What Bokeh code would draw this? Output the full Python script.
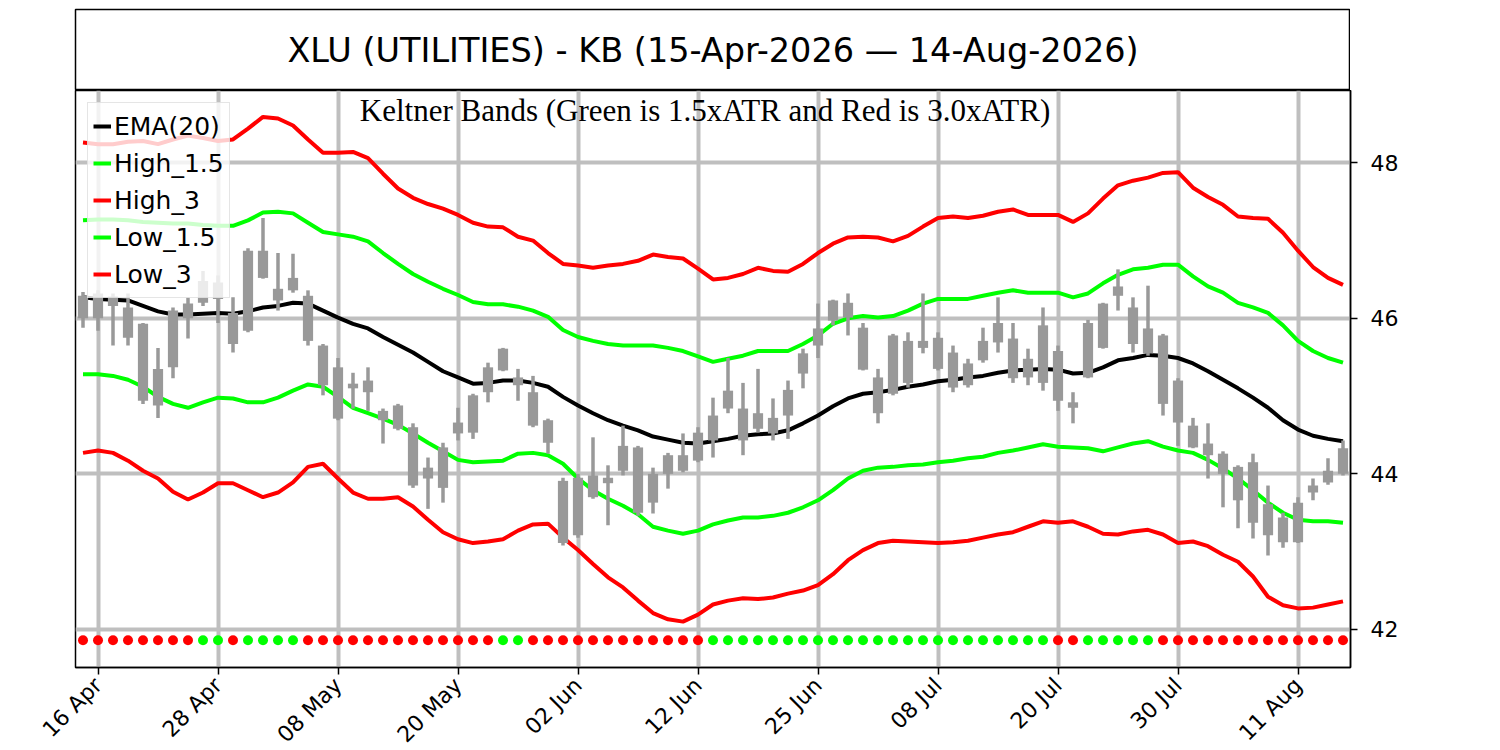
import math
from bokeh.plotting import figure
from bokeh.models import Range1d, FixedTicker, Label, Legend, LegendItem
from bokeh.layouts import column
from bokeh.embed import file_html
from bokeh.resources import INLINE

title_text = "XLU (UTILITIES) - KB (15-Apr-2026 \u2014 14-Aug-2026)"
subtitle_text = "Keltner Bands (Green is 1.5xATR and Red is 3.0xATR)"

tick_positions = [1, 9, 17, 25, 33, 41, 49, 57, 65, 73, 81]
tick_labels = ["16 Apr", "28 Apr", "08 May", "20 May", "02 Jun", "12 Jun",
               "25 Jun", "08 Jul", "20 Jul", "30 Jul", "11 Aug"]
y_ticks = [42, 44, 46, 48]

opens = [46.00, 46.00, 46.28, 46.14, 45.93, 44.88, 45.37, 46.00, 46.20, 46.46,
         45.67, 45.84, 46.87, 46.23, 46.52, 46.29, 45.65, 44.71, 45.16, 45.20,
         44.81, 44.88, 44.60, 43.94, 43.82, 44.52, 44.53, 45.05, 45.61, 45.24,
         45.05, 44.69, 43.11, 43.21, 43.70, 43.88, 44.36, 44.34, 43.63, 44.00,
         44.04, 44.17, 44.43, 45.07, 44.43, 44.78, 44.52, 44.75, 45.29, 45.65,
         45.97, 46.20, 45.88, 44.78, 45.03, 45.17, 45.71, 45.75, 45.56, 45.14,
         45.46, 45.94, 45.74, 45.24, 45.91, 45.58, 44.85, 45.24, 45.62, 46.41,
         46.14, 45.87, 45.78, 45.20, 44.62, 44.39, 44.26, 44.09, 44.15, 43.61,
         43.12, 43.12, 43.76, 43.89, 44.00]
highs = [46.34, 46.36, 46.32, 46.32, 45.94, 45.62, 46.14, 46.27, 46.61, 46.55,
         46.27, 46.90, 47.29, 46.84, 46.83, 46.36, 45.67, 45.49, 45.30, 45.37,
         44.84, 44.90, 44.65, 44.21, 44.40, 44.85, 45.03, 45.43, 45.62, 45.35,
         45.26, 44.71, 43.95, 44.00, 44.47, 44.11, 44.62, 44.36, 44.08, 44.27,
         44.52, 44.60, 44.98, 45.49, 45.17, 45.35, 44.97, 45.20, 45.61, 46.19,
         46.24, 46.32, 45.94, 45.35, 45.80, 45.82, 46.32, 45.82, 45.65, 45.48,
         45.88, 46.27, 45.94, 45.61, 46.14, 45.65, 45.05, 45.98, 46.20, 46.63,
         46.27, 46.42, 45.80, 45.23, 44.72, 44.65, 44.29, 44.11, 44.26, 43.85,
         43.50, 43.70, 43.94, 44.20, 44.43]
lows = [45.88, 45.84, 45.65, 45.65, 44.90, 44.72, 45.23, 45.74, 46.16, 45.94,
        45.56, 45.82, 46.51, 46.10, 46.33, 45.65, 45.01, 44.69, 44.84, 44.81,
        44.39, 44.56, 43.82, 43.55, 43.63, 44.43, 44.45, 44.92, 45.32, 44.94,
        44.60, 44.26, 43.08, 43.18, 43.68, 43.34, 43.98, 43.46, 43.49, 43.81,
        44.02, 44.15, 44.21, 44.78, 44.24, 44.53, 44.43, 44.45, 45.10, 45.49,
        45.91, 45.78, 45.33, 44.65, 45.01, 45.11, 45.55, 45.33, 45.05, 45.11,
        45.43, 45.56, 45.17, 45.14, 45.07, 44.81, 44.65, 45.23, 45.61, 46.10,
        45.56, 45.52, 44.75, 44.36, 44.33, 43.94, 43.57, 43.30, 43.17, 42.95,
        43.05, 43.11, 43.66, 43.86, 43.98]
closes = [46.29, 46.32, 46.16, 45.75, 44.94, 45.35, 46.10, 46.19, 46.48, 46.25,
          46.07, 46.87, 46.52, 46.38, 46.36, 45.71, 45.14, 45.37, 45.10, 45.05,
          44.69, 44.58, 43.85, 44.08, 44.34, 44.66, 45.01, 45.37, 45.33, 45.14,
          44.62, 44.40, 43.91, 43.95, 43.98, 43.95, 44.04, 43.50, 44.00, 44.24,
          44.24, 44.53, 44.75, 44.84, 44.84, 44.58, 44.72, 45.08, 45.55, 45.87,
          46.23, 46.01, 45.34, 45.24, 45.78, 45.71, 45.62, 45.35, 45.11, 45.42,
          45.71, 45.69, 45.23, 45.48, 45.17, 44.94, 44.92, 45.94, 46.19, 46.29,
          45.67, 45.55, 44.90, 44.66, 44.34, 44.24, 44.00, 43.66, 43.37, 43.21,
          43.44, 43.63, 43.85, 44.04, 44.33]

ema20 = [46.27, 46.25, 46.24, 46.23, 46.16, 46.09, 46.05, 46.05, 46.06, 46.07,
         46.06, 46.09, 46.14, 46.16, 46.20, 46.19, 46.10, 46.01, 45.93, 45.87,
         45.76, 45.66, 45.56, 45.44, 45.32, 45.24, 45.16, 45.17, 45.20, 45.20,
         45.17, 45.12, 44.99, 44.88, 44.78, 44.69, 44.62, 44.56, 44.48, 44.44,
         44.40, 44.39, 44.42, 44.45, 44.49, 44.51, 44.52, 44.56, 44.65, 44.75,
         44.87, 44.97, 45.03, 45.05, 45.08, 45.12, 45.15, 45.19, 45.21, 45.24,
         45.26, 45.30, 45.33, 45.34, 45.35, 45.34, 45.29, 45.30, 45.37, 45.46,
         45.49, 45.53, 45.52, 45.49, 45.42, 45.32, 45.21, 45.10, 44.98, 44.85,
         44.69, 44.57, 44.49, 44.45, 44.42]
high_15 = [47.26, 47.27, 47.27, 47.26, 47.24, 47.23, 47.22, 47.22, 47.20, 47.19,
           47.19, 47.26, 47.36, 47.37, 47.35, 47.23, 47.11, 47.08, 47.05, 46.99,
           46.84, 46.70, 46.57, 46.47, 46.38, 46.30, 46.21, 46.18, 46.18, 46.15,
           46.10, 46.02, 45.85, 45.76, 45.71, 45.67, 45.65, 45.65, 45.65, 45.62,
           45.58, 45.51, 45.44, 45.48, 45.52, 45.58, 45.58, 45.58, 45.67, 45.78,
           45.93, 46.00, 46.03, 46.01, 46.03, 46.10, 46.19, 46.25, 46.25, 46.25,
           46.29, 46.33, 46.36, 46.33, 46.33, 46.33, 46.27, 46.32, 46.45, 46.56,
           46.63, 46.65, 46.69, 46.69, 46.54, 46.41, 46.33, 46.20, 46.14, 46.07,
           45.91, 45.71, 45.58, 45.49, 45.43]
high_3 = [48.26, 48.24, 48.24, 48.27, 48.28, 48.24, 48.30, 48.35, 48.32, 48.28,
          48.30, 48.44, 48.59, 48.57, 48.48, 48.30, 48.13, 48.13, 48.14, 48.06,
          47.86, 47.67, 47.55, 47.47, 47.41, 47.33, 47.23, 47.18, 47.17, 47.05,
          47.00, 46.84, 46.70, 46.68, 46.65, 46.68, 46.70, 46.74, 46.82, 46.79,
          46.77, 46.64, 46.50, 46.52, 46.57, 46.65, 46.61, 46.60, 46.70, 46.84,
          46.96, 47.04, 47.05, 47.04, 46.99, 47.06, 47.18, 47.29, 47.31, 47.29,
          47.32, 47.37, 47.40, 47.33, 47.33, 47.33, 47.24, 47.35, 47.54, 47.71,
          47.77, 47.81, 47.87, 47.88, 47.68, 47.56, 47.46, 47.31, 47.29, 47.28,
          47.10, 46.87, 46.66, 46.52, 46.43]
low_15 = [45.28, 45.28, 45.26, 45.21, 45.12, 44.99, 44.90, 44.85, 44.92, 44.98,
          44.97, 44.92, 44.92, 44.98, 45.07, 45.15, 45.12, 44.99, 44.85, 44.78,
          44.71, 44.63, 44.52, 44.40, 44.29, 44.18, 44.15, 44.16, 44.17, 44.26,
          44.27, 44.24, 44.13, 43.94, 43.79, 43.68, 43.59, 43.48, 43.32, 43.27,
          43.23, 43.27, 43.35, 43.40, 43.44, 43.44, 43.46, 43.50, 43.57, 43.66,
          43.79, 43.94, 44.04, 44.08, 44.09, 44.11, 44.12, 44.15, 44.17, 44.20,
          44.22, 44.27, 44.30, 44.34, 44.38, 44.35, 44.34, 44.33, 44.29, 44.34,
          44.39, 44.42, 44.35, 44.30, 44.27, 44.18, 44.07, 43.94, 43.79, 43.63,
          43.50, 43.41, 43.39, 43.39, 43.37]
low_3 = [44.27, 44.30, 44.27, 44.17, 44.04, 43.94, 43.77, 43.67, 43.76, 43.88,
         43.88, 43.79, 43.70, 43.76, 43.89, 44.09, 44.13, 43.94, 43.76, 43.68,
         43.68, 43.70, 43.58, 43.41, 43.25, 43.16, 43.11, 43.13, 43.16, 43.27,
         43.35, 43.36, 43.18, 43.02, 42.84, 42.67, 42.54, 42.37, 42.21, 42.13,
         42.10, 42.19, 42.32, 42.37, 42.40, 42.39, 42.41, 42.46, 42.50, 42.57,
         42.71, 42.89, 43.02, 43.11, 43.14, 43.13, 43.12, 43.11, 43.12, 43.14,
         43.18, 43.22, 43.25, 43.32, 43.39, 43.37, 43.39, 43.32, 43.23, 43.22,
         43.26, 43.28, 43.22, 43.11, 43.13, 43.07, 42.96, 42.87, 42.68, 42.42,
         42.31, 42.27, 42.28, 42.32, 42.36]

# Signal per bar: "R" = red dot, "G" = green dot
signal = (["R"] * 8 + ["G"] * 2 + ["R"] * 1 + ["G"] * 4 + ["R"] * 13 + ["G"] * 2 +
          ["R"] * 12 + ["G"] * 23 + ["R"] * 2 + ["G"] * 5 + ["R"] * 13)
signal_level = 41.86

FONT = "DejaVu Sans"
GREEN = "#00ff00"
RED = "#ff0000"
CANDLE = "#999999"

idx = list(range(len(closes)))
body_top = [max(o, c) for o, c in zip(opens, closes)]
body_bot = [min(o, c) for o, c in zip(opens, closes)]
sig_colors = [RED if s == "R" else GREEN for s in signal]

# ---- title box ----
ft = figure(frame_width=1275, frame_height=81, x_range=Range1d(0, 1), y_range=Range1d(0, 1),
            toolbar_location=None, output_backend="svg",
            x_axis_location=None, y_axis_location=None,
            min_border_left=75, min_border_right=0, min_border_top=9, min_border_bottom=0)
ft.grid.visible = False
ft.outline_line_color = "black"
ft.outline_line_width = 1.5
ft.add_layout(Label(x=0.5, y=0.5, text=title_text, text_align="center", text_baseline="middle",
                    text_font=FONT, text_font_size="33.5px", text_color="black"))

# ---- main chart ----
p = figure(frame_width=1275, frame_height=577,
           x_range=Range1d(-0.5, 84.5), y_range=Range1d(41.51, 48.93),
           y_axis_location="right", toolbar_location=None, output_backend="svg",
           min_border_left=75, min_border_top=0, min_border_right=10, min_border_bottom=0)
p.outline_line_color = "black"
p.outline_line_width = 1.5

p.xaxis.ticker = FixedTicker(ticks=tick_positions)
p.xgrid.ticker = FixedTicker(ticks=tick_positions)
p.yaxis.ticker = FixedTicker(ticks=y_ticks)
p.ygrid.ticker = FixedTicker(ticks=y_ticks)
p.xaxis.major_label_overrides = {t: lab for t, lab in zip(tick_positions, tick_labels)}
p.xaxis.major_label_orientation = math.pi / 4
p.grid.grid_line_color = "#bfbfbf"
p.grid.grid_line_width = 4

for ax in (p.xaxis, p.yaxis):
    ax.major_label_text_font = FONT
    ax.major_label_text_color = "black"
    ax.axis_line_color = "black"
    ax.axis_line_width = 1.5
    ax.major_tick_line_color = "black"
    ax.major_tick_line_width = 1.5
    ax.major_tick_out = 7
    ax.major_tick_in = 0
    ax.minor_tick_line_color = None
p.xaxis.major_label_text_font_size = "22px"
p.xaxis.major_label_standoff = 7
p.yaxis.major_label_text_font_size = "22px"
p.yaxis.major_label_standoff = 13

r_ema = p.line(idx, ema20, line_color="black", line_width=4)
r_h15 = p.line(idx, high_15, line_color=GREEN, line_width=4)
r_h3 = p.line(idx, high_3, line_color=RED, line_width=4)
r_l15 = p.line(idx, low_15, line_color=GREEN, line_width=4)
r_l3 = p.line(idx, low_3, line_color=RED, line_width=4)

p.segment(x0=idx, y0=highs, x1=idx, y1=lows, line_color=CANDLE, line_width=3.5)
p.vbar(x=idx, width=0.68, top=body_top, bottom=body_bot, fill_color=CANDLE, line_color=None)

p.scatter(x=idx, y=[signal_level] * len(idx), size=10, fill_color=sig_colors, line_color=None)

p.add_layout(Label(x=41.47, y=48.67, text=subtitle_text, text_align="center",
                   text_baseline="alphabetic", text_font="Liberation Serif",
                   text_font_size="31px", text_color="black"))

legend = Legend(items=[LegendItem(label="EMA(20)", renderers=[r_ema]),
                       LegendItem(label="High_1.5", renderers=[r_h15]),
                       LegendItem(label="High_3", renderers=[r_h3]),
                       LegendItem(label="Low_1.5", renderers=[r_l15]),
                       LegendItem(label="Low_3", renderers=[r_l3])],
                location="top_left", margin=12, padding=5, spacing=1,
                glyph_width=18, glyph_height=36, label_height=36, label_standoff=3,
                label_text_font=FONT, label_text_font_size="25px", label_text_color="black",
                background_fill_color="white", background_fill_alpha=0.8,
                border_line_color="#cccccc", border_line_width=1.5)
p.add_layout(legend, "center")

layout = column(ft, p, spacing=0)
open("out.html", "w").write(file_html(layout, INLINE))
